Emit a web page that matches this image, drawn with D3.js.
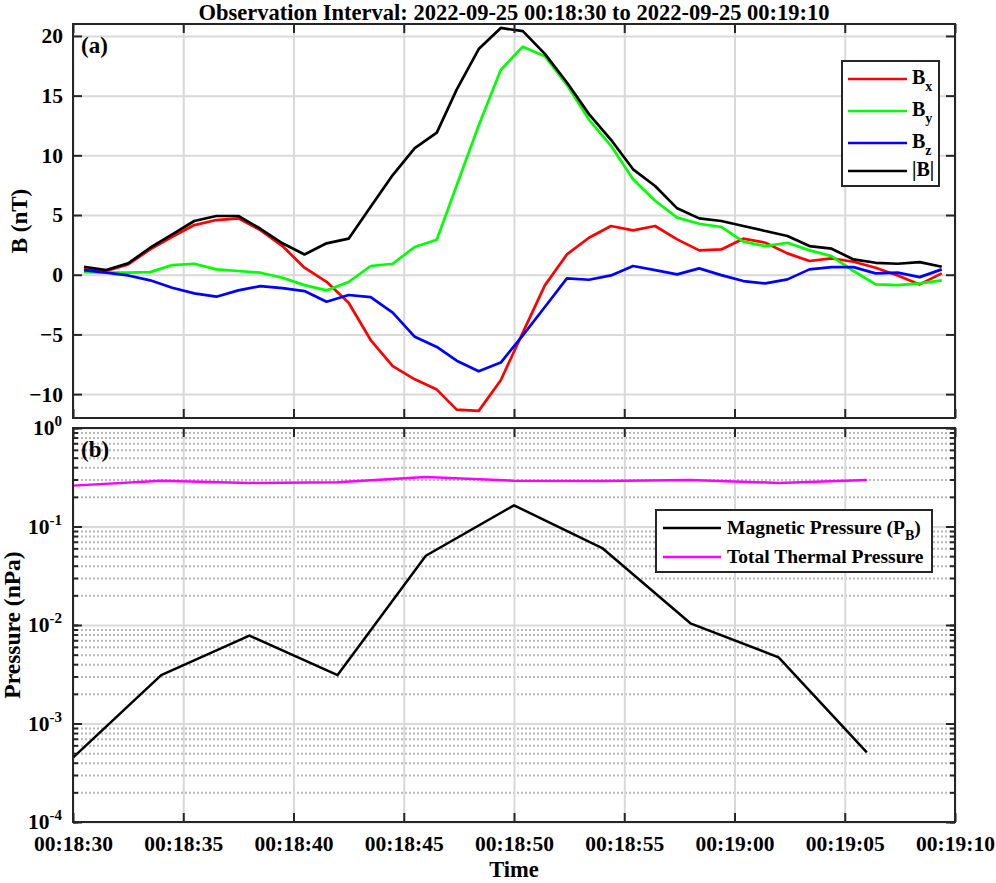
<!DOCTYPE html>
<html>
<head>
<meta charset="utf-8">
<script src="https://cdnjs.cloudflare.com/ajax/libs/d3/7.8.5/d3.min.js"></script>
<style>
body { margin: 0; background: #fff; }
svg text { font-family: "Liberation Serif", "Times New Roman", serif; font-weight: bold; fill: #000; }
</style>
</head>
<body>
<div id="chart"></div>
<script>
// seconds after 00:18:30 (field samples ~1 s cadence)
var fieldTimes = [0.5,1.5,2.5,3.5,4.5,5.5,6.5,7.5,8.5,9.5,10.5,11.5,12.5,13.5,14.5,15.5,16.5,
    17.4,18.4,19.4,20.4,21.4,22.4,23.4,24.4,25.4,26.4,27.4,28.4,29.4,30.4,31.4,32.4,33.4,34.4,35.4,36.4,37.4,38.4,39.4];
var bx = [0.45,0.31,0.87,2.12,3.18,4.16,4.58,4.72,3.74,2.40,0.59,-0.59,-2.35,-5.47,-7.65,-8.76,-9.62,-11.3,-11.4,-8.84,
    -4.85,-0.89,1.70,3.10,4.08,3.72,4.08,2.96,2.04,2.12,3.02,2.68,1.79,1.15,1.37,1.09,0.59,-0.06,-0.81,0.11];
var by = [0.22,0.17,0.17,0.22,0.81,0.92,0.45,0.31,0.17,-0.25,-0.87,-1.31,-0.61,0.73,0.92,2.32,2.93,7.47,12.5,17.15,
    19.1,18.3,15.9,13.0,10.8,8.0,6.2,4.78,4.27,4.0,2.77,2.4,2.68,2.04,1.56,0.31,-0.81,-0.87,-0.73,-0.47];
var bz = [0.39,0.17,-0.06,-0.47,-1.09,-1.56,-1.84,-1.31,-0.95,-1.12,-1.37,-2.26,-1.70,-1.87,-3.18,-5.2,-6.05,-7.2,-8.09,-7.36,
    -5.08,-2.7,-0.3,-0.42,-0.06,0.73,0.39,0.03,0.53,-0.03,-0.53,-0.73,-0.39,0.45,0.64,0.64,0.11,0.17,-0.2,0.45];
var bt = [0.67,0.39,0.95,2.26,3.38,4.5,4.92,4.92,3.85,2.63,1.70,2.63,3.02,5.7,8.35,10.6,11.9,15.5,18.9,20.67,
    20.4,18.5,16.1,13.45,11.3,8.83,7.43,5.56,4.72,4.5,4.08,3.66,3.24,2.4,2.18,1.28,1.0,0.92,1.06,0.67];

// pressure samples every 4 s
var pressTimes = [0,4,8,12,16,20,24,28,32,36];
var magPressure = [4.5e-4,3.1e-3,7.8e-3,3.1e-3,0.0505,0.164,0.0604,0.0104,4.7e-3,5.1e-4];
var thermPressure = [0.26,0.292,0.277,0.281,0.318,0.292,0.29,0.297,0.277,0.297];

var tickSeconds = [0,5,10,15,20,25,30,35,40];
var tickLabels = ["00:18:30","00:18:35","00:18:40","00:18:45","00:18:50","00:18:55","00:19:00","00:19:05","00:19:10"];
var bTicks = [-10,-5,0,5,10,15,20];
var pTicks = [1e-4,1e-3,1e-2,1e-1,1];
var pTickExp = ["-4","-3","-2","-1","0"];

var fieldSeries = [
    {name: "B", sub: "x", values: bx, color: "#ff0000"},
    {name: "B", sub: "y", values: by, color: "#00ff00"},
    {name: "B", sub: "z", values: bz, color: "#0000ff"},
    {name: "|B|", sub: "", values: bt, color: "#000000"}
];
var pressSeries = [
    {name: "Magnetic Pressure (P", sub: "B", tail: ")", values: magPressure, color: "#000000"},
    {name: "Total Thermal Pressure", sub: "", tail: "", values: thermPressure, color: "#ff00ff"}
];

var AX = "#262626", GRID = "#d9d9d9";

var svg = d3.select("#chart").append("svg")
    .attr("width", 996).attr("height", 883);

var left = 73, right = 955;
var x = d3.scaleLinear().domain([0, 40]).range([left, right]);

svg.append("text").attr("x", 514).attr("y", 20).attr("text-anchor", "middle")
    .style("font-size", "22.5px")
    .text("Observation Interval: 2022-09-25 00:18:30 to 2022-09-25 00:19:10");

function styleGrid(g, dash, color) {
    g.select(".domain").remove();
    g.selectAll("line").attr("stroke", color || GRID).attr("stroke-width", 2)
        .attr("stroke-dasharray", dash || null);
}
function styleTicks(g) {
    g.select(".domain").remove();
    g.selectAll("line").attr("stroke", AX).attr("stroke-width", 2);
    g.selectAll("text").style("font-size", "21.5px").attr("fill", "#000");
}

// ---------- panel (a) ----------
var topA = 24, botA = 418;
var yB = d3.scaleLinear().domain([-12, 21]).range([botA, topA]);
var ga = svg.append("g");

ga.append("g").attr("transform", "translate(0," + botA + ")")
    .call(d3.axisBottom(x).tickValues(tickSeconds).tickSize(-(botA - topA)).tickFormat(""))
    .call(styleGrid);
ga.append("g").attr("transform", "translate(" + left + ",0)")
    .call(d3.axisLeft(yB).tickValues(bTicks).tickSize(-(right - left)).tickFormat(""))
    .call(styleGrid);

var lineB = d3.line().x(function(d, i){ return x(fieldTimes[i]); }).y(function(d){ return yB(d); });
fieldSeries.forEach(function(s){
    ga.append("path").attr("d", lineB(s.values)).attr("fill", "none")
        .attr("stroke", s.color).attr("stroke-width", 2.7).attr("stroke-linejoin", "round");
});

ga.append("g").attr("transform", "translate(" + left + ",0)")
    .call(d3.axisLeft(yB).tickValues(bTicks).tickSize(-9).tickPadding(10))
    .call(styleTicks);
ga.append("g").attr("transform", "translate(" + right + ",0)")
    .call(d3.axisRight(yB).tickValues(bTicks).tickSize(-9).tickFormat(""))
    .call(styleTicks);
ga.append("g").attr("transform", "translate(0," + botA + ")")
    .call(d3.axisBottom(x).tickValues(tickSeconds).tickSize(-9).tickFormat(""))
    .call(styleTicks);
ga.append("g").attr("transform", "translate(0," + topA + ")")
    .call(d3.axisTop(x).tickValues(tickSeconds).tickSize(-9).tickFormat(""))
    .call(styleTicks);
ga.append("rect").attr("x", left).attr("y", topA).attr("width", right - left).attr("height", botA - topA)
    .attr("fill", "none").attr("stroke", AX).attr("stroke-width", 2);

ga.append("text").attr("x", 81).attr("y", 53).style("font-size", "23px").text("(a)");
ga.append("text").attr("transform", "translate(27," + (topA + botA) / 2 + ") rotate(-90)")
    .attr("text-anchor", "middle").style("font-size", "23px").text("B (nT)");

// legend (a)
var legA = ga.append("g");
legA.append("rect").attr("x", 842).attr("y", 61).attr("width", 97).attr("height", 125)
    .attr("fill", "#fff").attr("stroke", AX).attr("stroke-width", 2);
var legRowsA = [79, 111, 143, 171];
fieldSeries.forEach(function(s, i){
    var yy = legRowsA[i];
    legA.append("line").attr("x1", 848).attr("x2", 907).attr("y1", yy).attr("y2", yy)
        .attr("stroke", s.color).attr("stroke-width", 2.7);
    var t = legA.append("text").attr("x", 912).attr("y", yy + 5).style("font-size", "20px");
    t.append("tspan").text(s.name);
    if (s.sub) t.append("tspan").attr("dy", 7).style("font-size", "14px").text(s.sub);
});

// ---------- panel (b) ----------
var topB = 428, botB = 822;
var yP = d3.scaleLog().domain([1e-4, 1]).range([botB, topB]);
var gb = svg.append("g");
var minorVals = yP.ticks().filter(function(v){ return pTicks.indexOf(v) < 0 && v > 1e-4 && v < 1; });
var allVals = yP.ticks();

gb.append("g").attr("transform", "translate(" + left + ",0)")
    .call(d3.axisLeft(yP).tickValues(minorVals).tickSize(-(right - left)).tickFormat(""))
    .call(styleGrid, "2,2", "#b8b8b8");
gb.append("g").attr("transform", "translate(0," + botB + ")")
    .call(d3.axisBottom(x).tickValues(tickSeconds).tickSize(-(botB - topB)).tickFormat(""))
    .call(styleGrid);
gb.append("g").attr("transform", "translate(" + left + ",0)")
    .call(d3.axisLeft(yP).tickValues(pTicks).tickSize(-(right - left)).tickFormat(""))
    .call(styleGrid);

var lineP = d3.line().x(function(d, i){ return x(pressTimes[i]); }).y(function(d){ return yP(d); });
pressSeries.forEach(function(s){
    gb.append("path").attr("d", lineP(s.values)).attr("fill", "none")
        .attr("stroke", s.color).attr("stroke-width", 2.5).attr("stroke-linejoin", "round");
});

// minor ticks
gb.append("g").attr("transform", "translate(" + left + ",0)")
    .call(d3.axisLeft(yP).tickValues(allVals).tickSize(-5).tickFormat(""))
    .call(styleTicks);
gb.append("g").attr("transform", "translate(" + right + ",0)")
    .call(d3.axisRight(yP).tickValues(allVals).tickSize(-5).tickFormat(""))
    .call(styleTicks);
// major ticks with 10^n labels
var gLeftP = gb.append("g").attr("transform", "translate(" + left + ",0)")
    .call(d3.axisLeft(yP).tickValues(pTicks).tickSize(-9).tickPadding(11).tickFormat(function(){ return ""; }))
    .call(styleTicks);
gLeftP.selectAll(".tick text").each(function(d, i){
    var t = d3.select(this);
    t.append("tspan").text("10");
    t.append("tspan").attr("dy", -9).style("font-size", "15px").text(pTickExp[i]);
});
gb.append("g").attr("transform", "translate(" + right + ",0)")
    .call(d3.axisRight(yP).tickValues(pTicks).tickSize(-9).tickFormat(""))
    .call(styleTicks);
gb.append("g").attr("transform", "translate(0," + topB + ")")
    .call(d3.axisTop(x).tickValues(tickSeconds).tickSize(-9).tickFormat(""))
    .call(styleTicks);
gb.append("g").attr("transform", "translate(0," + botB + ")")
    .call(d3.axisBottom(x).tickValues(tickSeconds).tickSize(-9).tickPadding(14)
        .tickFormat(function(d, i){ return tickLabels[i]; }))
    .call(styleTicks);
gb.append("rect").attr("x", left).attr("y", topB).attr("width", right - left).attr("height", botB - topB)
    .attr("fill", "none").attr("stroke", AX).attr("stroke-width", 2);

gb.append("text").attr("x", 81).attr("y", 457).style("font-size", "23px").text("(b)");
gb.append("text").attr("transform", "translate(20," + (topB + botB) / 2 + ") rotate(-90)")
    .attr("text-anchor", "middle").style("font-size", "23.5px").text("Pressure (nPa)");
gb.append("text").attr("x", (left + right) / 2).attr("y", 877).attr("text-anchor", "middle")
    .style("font-size", "22.5px").text("Time");

// legend (b)
var legB = gb.append("g");
legB.append("rect").attr("x", 656).attr("y", 510).attr("width", 276).attr("height", 62)
    .attr("fill", "#fff").attr("stroke", AX).attr("stroke-width", 2);
var legRowsB = [528, 557];
pressSeries.forEach(function(s, i){
    var yy = legRowsB[i];
    legB.append("line").attr("x1", 663).attr("x2", 721).attr("y1", yy).attr("y2", yy)
        .attr("stroke", s.color).attr("stroke-width", 2.5);
    var t = legB.append("text").attr("x", 727).attr("y", yy + 6).style("font-size", "19.5px");
    t.append("tspan").text(s.name);
    if (s.sub) {
        t.append("tspan").attr("dy", 6).style("font-size", "14px").text(s.sub);
        t.append("tspan").attr("dy", -6).text(s.tail);
    }
});
</script>
</body>
</html>
